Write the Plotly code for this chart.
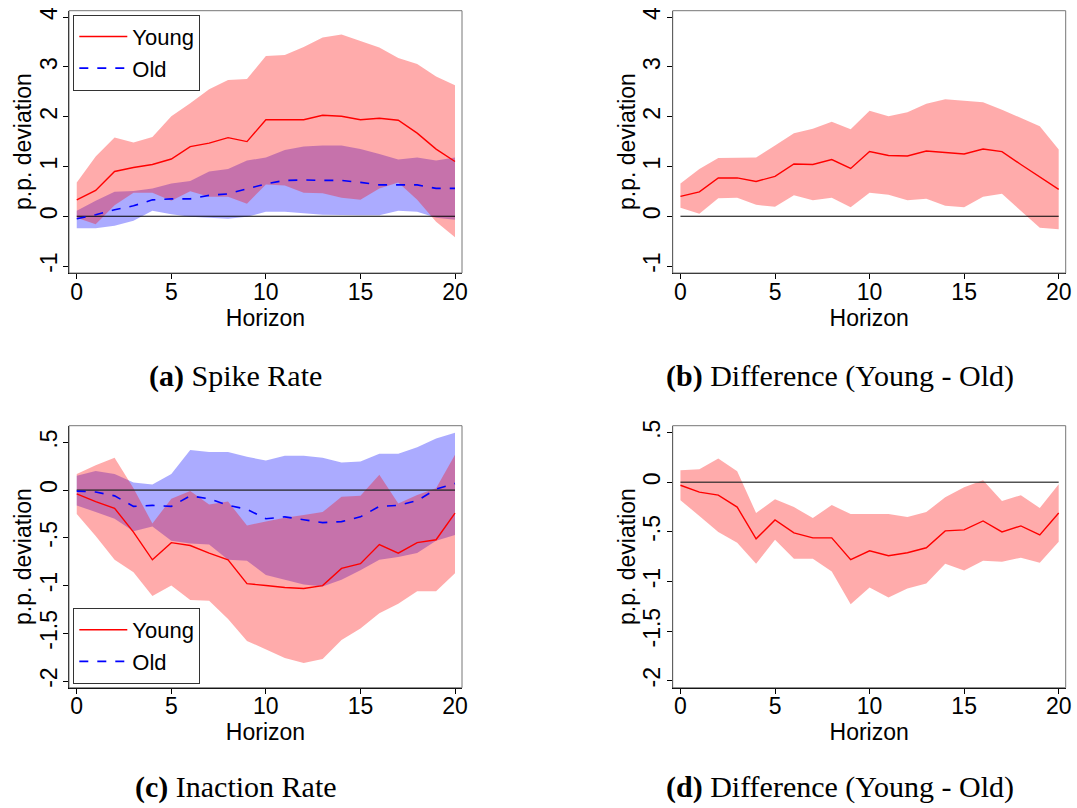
import plotly.graph_objects as go

# ---------------- data ----------------
HORIZON = list(range(21))

# (a) Spike rate
SPIKE_YOUNG = [0.33, 0.52, 0.90, 0.98, 1.04, 1.15, 1.40, 1.47, 1.58, 1.50, 1.94,
               1.94, 1.94, 2.03, 2.01, 1.94, 1.97, 1.93, 1.67, 1.35, 1.10]
SPIKE_YOUNG_HI = [0.68, 1.20, 1.58, 1.48, 1.59, 2.01, 2.27, 2.55, 2.74, 2.76, 3.22,
                  3.24, 3.40, 3.59, 3.65, 3.52, 3.39, 3.18, 3.06, 2.81, 2.63]
SPIKE_YOUNG_LO = [-0.03, -0.16, 0.22, 0.47, 0.47, 0.31, 0.50, 0.39, 0.39, 0.25, 0.64,
                  0.62, 0.47, 0.46, 0.37, 0.33, 0.56, 0.68, 0.33, -0.11, -0.42]
SPIKE_OLD = [-0.05, 0.03, 0.13, 0.21, 0.33, 0.35, 0.35, 0.42, 0.45, 0.55, 0.65,
             0.72, 0.73, 0.72, 0.72, 0.68, 0.63, 0.63, 0.63, 0.56, 0.56]
SPIKE_OLD_HI = [0.11, 0.31, 0.49, 0.51, 0.56, 0.66, 0.71, 0.90, 0.95, 1.12, 1.18,
                1.33, 1.40, 1.42, 1.42, 1.35, 1.25, 1.14, 1.18, 1.12, 1.18]
SPIKE_OLD_LO = [-0.24, -0.24, -0.19, -0.09, 0.11, 0.04, -0.01, -0.03, -0.05, -0.01, 0.09,
                0.09, 0.06, 0.03, 0.03, 0.02, 0.02, 0.11, 0.09, -0.03, -0.07]

# (b) Spike rate difference
SPIKE_DIFF = [0.40, 0.49, 0.77, 0.77, 0.70, 0.80, 1.05, 1.04, 1.14, 0.96, 1.30,
              1.22, 1.21, 1.31, 1.28, 1.25, 1.35, 1.30, 1.04, 0.79, 0.54]
SPIKE_DIFF_HI = [0.66, 0.95, 1.17, 1.17, 1.18, 1.42, 1.67, 1.76, 1.90, 1.75, 2.12,
                 2.01, 2.09, 2.26, 2.35, 2.32, 2.29, 2.14, 1.97, 1.81, 1.34]
SPIKE_DIFF_LO = [0.17, 0.05, 0.36, 0.37, 0.23, 0.19, 0.42, 0.32, 0.37, 0.18, 0.47,
                 0.43, 0.32, 0.35, 0.21, 0.18, 0.39, 0.45, 0.12, -0.23, -0.26]

# (c) Inaction rate
INACT_YOUNG = [-0.04, -0.12, -0.19, -0.44, -0.73, -0.55, -0.58, -0.66, -0.73, -0.98, -1.00,
               -1.02, -1.03, -1.00, -0.82, -0.77, -0.57, -0.66, -0.55, -0.52, -0.24]
INACT_YOUNG_HI = [0.17, 0.26, 0.34, 0.02, -0.35, -0.09, -0.01, -0.15, -0.12, -0.37, -0.33,
                  -0.29, -0.26, -0.23, -0.07, -0.06, 0.16, -0.14, -0.05, 0.02, 0.37]
INACT_YOUNG_LO = [-0.25, -0.48, -0.73, -0.86, -1.11, -1.00, -1.15, -1.16, -1.35, -1.58, -1.67,
                  -1.76, -1.81, -1.77, -1.57, -1.45, -1.29, -1.19, -1.06, -1.06, -0.87]
INACT_OLD = [-0.01, -0.02, -0.06, -0.17, -0.16, -0.17, -0.06, -0.09, -0.16, -0.20, -0.30,
             -0.28, -0.31, -0.34, -0.33, -0.28, -0.17, -0.16, -0.11, 0.01, 0.07]
INACT_OLD_HI = [0.15, 0.20, 0.17, 0.08, 0.06, 0.17, 0.42, 0.40, 0.40, 0.35, 0.31,
                0.36, 0.36, 0.34, 0.29, 0.30, 0.38, 0.38, 0.45, 0.54, 0.60]
INACT_OLD_LO = [-0.16, -0.23, -0.30, -0.43, -0.38, -0.53, -0.56, -0.57, -0.73, -0.74, -0.89,
                -0.94, -0.99, -1.01, -0.94, -0.84, -0.73, -0.70, -0.66, -0.53, -0.47]

# (d) Inaction rate difference
INACT_DIFF = [-0.03, -0.10, -0.13, -0.25, -0.57, -0.38, -0.51, -0.56, -0.56, -0.78, -0.69,
              -0.74, -0.71, -0.66, -0.49, -0.48, -0.39, -0.50, -0.44, -0.53, -0.31]
INACT_DIFF_HI = [0.12, 0.13, 0.24, 0.11, -0.31, -0.17, -0.25, -0.36, -0.23, -0.32, -0.32,
                 -0.32, -0.35, -0.30, -0.15, -0.05, 0.02, -0.19, -0.13, -0.26, -0.02]
INACT_DIFF_LO = [-0.18, -0.34, -0.50, -0.61, -0.82, -0.58, -0.77, -0.77, -0.90, -1.23, -1.06,
                 -1.16, -1.07, -1.02, -0.82, -0.89, -0.79, -0.80, -0.76, -0.81, -0.60]

X_TICKS = [0, 5, 10, 15, 20]
Y_TICKS_TOP = [4, 3, 2, 1, 0, -1]
Y_TICKTEXT_TOP = ["4", "3", "2", "1", "0", "-1"]
Y_TICKS_BOT = [0.5, 0, -0.5, -1, -1.5, -2]
Y_TICKTEXT_BOT = [".5", "0", "-.5", "-1", "-1.5", "-2"]

CAPTIONS = ["<b>(a)</b> Spike Rate", "<b>(b)</b> Difference (Young - Old)",
            "<b>(c)</b> Inaction Rate", "<b>(d)</b> Difference (Young - Old)"]
X_TITLE = "Horizon"
Y_TITLE = "p.p. deviation"

# ---------------- styling ----------------
W, H = 1077, 808
RED_BAND = "rgba(255,0,0,0.33)"
BLUE_BAND = "rgba(0,0,255,0.33)"
SANS = "Liberation Sans, Arial, sans-serif"
SERIF = "Liberation Serif, Times New Roman, serif"
FS = 23

fig = go.Figure()


def band(xa, ya, lo, hi, color):
    fig.add_trace(go.Scatter(
        x=HORIZON + HORIZON[::-1], y=hi + lo[::-1], xaxis=xa, yaxis=ya,
        fill="toself", fillcolor=color, mode="lines", line=dict(width=0, color=color),
        hoverinfo="skip", showlegend=False))


def zero_line(xa, ya, color, width):
    fig.add_trace(go.Scatter(
        x=[HORIZON[0], HORIZON[-1]], y=[0, 0], xaxis=xa, yaxis=ya, mode="lines",
        line=dict(color=color, width=width), hoverinfo="skip", showlegend=False))


def line(xa, ya, y, name, color, dash, legend=None, width=1.4):
    fig.add_trace(go.Scatter(
        x=HORIZON, y=y, xaxis=xa, yaxis=ya, mode="lines", name=name,
        line=dict(color=color, width=width, dash=dash),
        showlegend=legend is not None, legend=legend if legend else "legend"))


# (a)
band("x", "y", SPIKE_OLD_LO, SPIKE_OLD_HI, BLUE_BAND)
band("x", "y", SPIKE_YOUNG_LO, SPIKE_YOUNG_HI, RED_BAND)
zero_line("x", "y", "black", 1.2)
line("x", "y", SPIKE_YOUNG, "Young", "red", "solid", "legend")
line("x", "y", SPIKE_OLD, "Old", "blue", "dash", "legend", 1.6)

# (b)
band("x2", "y2", SPIKE_DIFF_LO, SPIKE_DIFF_HI, RED_BAND)
zero_line("x2", "y2", "black", 1.2)
line("x2", "y2", SPIKE_DIFF, "Difference", "red", "solid")

# (c)
band("x3", "y3", INACT_OLD_LO, INACT_OLD_HI, BLUE_BAND)
band("x3", "y3", INACT_YOUNG_LO, INACT_YOUNG_HI, RED_BAND)
zero_line("x3", "y3", "rgba(40,40,40,0.75)", 1.8)
line("x3", "y3", INACT_YOUNG, "Young", "red", "solid", "legend2")
line("x3", "y3", INACT_OLD, "Old", "blue", "dash", "legend2", 1.6)

# (d)
band("x4", "y4", INACT_DIFF_LO, INACT_DIFF_HI, RED_BAND)
zero_line("x4", "y4", "rgba(40,40,40,0.8)", 1.4)
line("x4", "y4", INACT_DIFF, "Difference", "red", "solid")

# ---------------- layout ----------------
XDOM_L = [69 / W, 462 / W]
XDOM_R = [672.7 / W, 1065.7 / W]
YDOM_T = [1 - 273 / H, 1 - 10.7 / H]
YDOM_B = [1 - 687.7 / H, 1 - 425.7 / H]
XRANGE = [-0.41, 20.37]


def xax(dom, anchor):
    return dict(domain=dom, anchor=anchor, range=XRANGE, tickvals=X_TICKS,
                ticks="outside", ticklen=5, tickcolor="black", showline=True,
                linecolor="black", linewidth=1.2, showgrid=False, zeroline=False,
                ticklabelstandoff=-7,
                tickfont=dict(family=SANS, size=FS, color="black"),
                title=dict(text=X_TITLE, font=dict(family=SANS, size=FS, color="black"),
                           standoff=0),
                automargin=False)


def yax(dom, anchor, rng, vals, text):
    return dict(domain=dom, anchor=anchor, range=rng, tickvals=vals, ticktext=text,
                tickangle=-90, ticks="outside", ticklen=5, tickcolor="black",
                ticklabelstandoff=-3,
                showline=True, linecolor="black", linewidth=1.2, showgrid=False,
                zeroline=False, tickfont=dict(family=SANS, size=FS, color="black"),
                automargin=False)


legend_common = dict(bgcolor="white", bordercolor="#333", borderwidth=1,
                     font=dict(family=SANS, size=22, color="black"),
                     xanchor="left", tracegroupgap=0, itemwidth=48)

fig.update_layout(
    width=W, height=H, margin=dict(l=0, r=0, t=0, b=0),
    paper_bgcolor="white", plot_bgcolor="white",
    xaxis=xax(XDOM_L, "y"), yaxis=yax(YDOM_T, "x", [-1.14, 4.13], Y_TICKS_TOP, Y_TICKTEXT_TOP),
    xaxis2=xax(XDOM_R, "y2"), yaxis2=yax(YDOM_T, "x2", [-1.14, 4.13], Y_TICKS_TOP, Y_TICKTEXT_TOP),
    xaxis3=xax(XDOM_L, "y3"), yaxis3=yax(YDOM_B, "x3", [-2.07, 0.675], Y_TICKS_BOT, Y_TICKTEXT_BOT),
    xaxis4=xax(XDOM_R, "y4"), yaxis4=yax(YDOM_B, "x4", [-2.07, 0.57], Y_TICKS_BOT, Y_TICKTEXT_BOT),
    legend=dict(x=73.3 / W, y=1 - 14.7 / H, yanchor="top", **legend_common),
    legend2=dict(x=73.3 / W, y=1 - 684 / H, yanchor="bottom", **legend_common),
)

# plot-region frames
for xr, yr in [("x", "y"), ("x2", "y2"), ("x3", "y3"), ("x4", "y4")]:
    fig.add_shape(type="rect", xref=f"{xr} domain", yref=f"{yr} domain",
                  x0=0, x1=1, y0=0, y1=1, line=dict(color="#777", width=1),
                  fillcolor="rgba(0,0,0,0)", layer="above")

# y-axis titles
for cx, cy in [(23, 142), (627, 142), (23, 557), (627, 557)]:
    fig.add_annotation(text=Y_TITLE, x=cx / W, y=1 - cy / H, xref="paper", yref="paper",
                       xanchor="center", yanchor="middle", textangle=-90, showarrow=False,
                       font=dict(family=SANS, size=FS, color="black"))

# captions
CAP_POS = [(235.5, 376), (840, 376), (235.5, 787), (840, 787)]
for txt, (cx, cy) in zip(CAPTIONS, CAP_POS):
    fig.add_annotation(text=txt, x=cx / W, y=1 - cy / H, xref="paper", yref="paper",
                       xanchor="center", yanchor="middle", showarrow=False,
                       font=dict(family=SERIF, size=30, color="black"))

fig.write_html("out.html", config={"displayModeBar": False},
               post_script="document.body.style.margin='0px';document.body.style.overflow='hidden';")
